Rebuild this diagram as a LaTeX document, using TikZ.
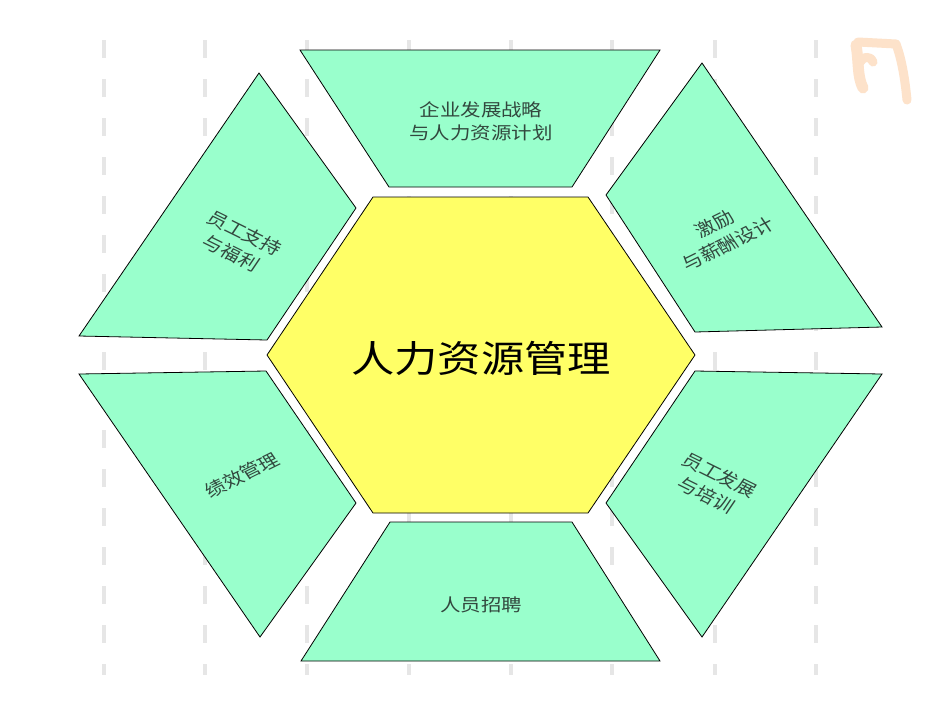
\documentclass[tikz,border=0pt]{standalone}
\usepackage{fontspec}
\newfontfamily\cjk{Noto Sans CJK SC}
\definecolor{mint}{RGB}{153,255,204}
\definecolor{hexyellow}{RGB}{255,255,102}
\definecolor{dashgray}{RGB}{230,230,230}
\definecolor{labelgray}{RGB}{50,72,62}
\definecolor{peach}{RGB}{253,226,202}
\begin{document}
\begin{tikzpicture}[x=1pt,y=-1pt,
  panel/.style={fill=mint,draw=black,line width=0.8pt,line join=miter},
  core/.style={fill=hexyellow,draw=black,line width=0.8pt,line join=miter},
  guide/.style={draw=dashgray,line width=4pt,dash pattern=on 18pt off 21pt},
  sidetext/.style={font=\cjk\fontsize{17.5}{23}\selectfont,text=labelgray,align=center,inner sep=0pt,transform shape},
  coretext/.style={font=\cjk\fontsize{37}{40}\selectfont,text=black,inner sep=0pt,transform shape},
  glyph/.style={draw=peach,line cap=round,line join=round},
  ]
\useasboundingbox (0,0) rectangle (950,713);
\fill[white] (0,0) rectangle (950,713);
% background guide lines
\foreach \x in {104,205,307,409,511,612,715,816} \draw[guide] (\x,40) -- (\x,675);
% watermark glyph
\draw[glyph,line width=11pt]
  (856,45) .. controls (859,62) and (857,76) .. (863,88);
\draw[glyph,line width=9pt]
  (859,64) .. controls (863,56) and (870,55) .. (873,62);
\draw[glyph,line width=9pt]
  (858,42) -- (896,44) .. controls (902,60) and (905,80) .. (907,100);
% panels
\draw[panel] (300,50) -- (660,50) -- (572,187) -- (389,187) -- cycle;
\draw[panel] (390,522) -- (572,522) -- (660,661) -- (301,661) -- cycle;
\draw[panel] (259,73) -- (356,208) -- (267,340) -- (79,336) -- cycle;
\draw[panel] (702,63) -- (882,327) -- (695,332) -- (606,195) -- cycle;
\draw[panel] (79,374) -- (266,371) -- (356,503) -- (260,637) -- cycle;
\draw[panel] (695,371) -- (882,374) -- (702,637) -- (606,503) -- cycle;
\draw[core] (267,355) -- (373,197) -- (588,197) -- (695,355) -- (588,513) -- (373,513) -- cycle;
% labels
\begin{scope}[shift={(481,121)},xscale=1.17]
  \node[sidetext] (strategy) {企业发展战略\\与人力资源计划};
\end{scope}
\begin{scope}[shift={(481,605)},xscale=1.17]
  \node[sidetext] (recruit) {人员招聘};
\end{scope}
\begin{scope}[shift={(238,243)},xscale=1.17]
  \node[sidetext,rotate=-30] (support) {员工支持\\与福利};
\end{scope}
\begin{scope}[shift={(721,234)},xscale=1.17]
  \node[sidetext,rotate=30] (reward) {激励\\与薪酬设计};
\end{scope}
\begin{scope}[shift={(242,475)},xscale=1.17]
  \node[sidetext,rotate=30] (perf) {绩效管理};
\end{scope}
\begin{scope}[shift={(713,485)},xscale=1.17]
  \node[sidetext,rotate=-30] (train) {员工发展\\与培训};
\end{scope}
\begin{scope}[shift={(481,358)},xscale=1.17]
  \node[coretext] (hrm) {人力资源管理};
\end{scope}
\end{tikzpicture}
\end{document}
